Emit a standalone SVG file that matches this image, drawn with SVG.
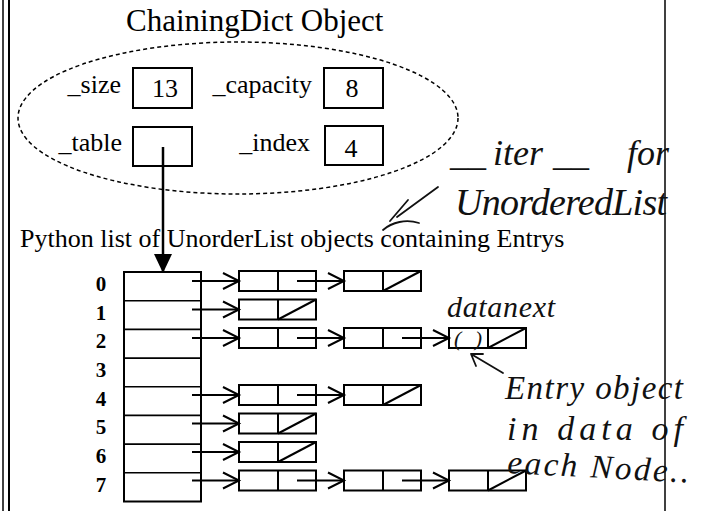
<svg xmlns="http://www.w3.org/2000/svg" width="701" height="511" viewBox="0 0 701 511">
<defs>
<style>
.t{font-family:"Liberation Serif","Times New Roman",serif;fill:#000}
.ttl{font-size:31px}
.lbl{font-size:26px}
.idx{font-size:21px;font-weight:bold;text-anchor:middle}
.box{fill:#fff;stroke:#000;stroke-width:2}
.cell{fill:none;stroke:#000;stroke-width:1.6}
.ln{stroke:#000;stroke-width:2;fill:none}
.hw{font-family:"Liberation Serif","DejaVu Serif",serif;font-style:italic;fill:#111}
.hs{stroke:#111;stroke-width:1.8;fill:none;stroke-linecap:round;stroke-linejoin:round}
</style>
<marker id="open" markerUnits="userSpaceOnUse" markerWidth="18" markerHeight="18" refX="16" refY="8" orient="auto" overflow="visible">
<path d="M0,0 L16,8 L0,16" fill="none" stroke="#000" stroke-width="2"/>
</marker>
<marker id="solid" markerUnits="userSpaceOnUse" markerWidth="20" markerHeight="20" refX="19" refY="9" orient="auto" overflow="visible">
<path d="M0,0 L19,9 L0,18 Z" fill="#000"/>
</marker>
</defs>
<rect width="701" height="511" fill="#fff"/>
<g id="frame" stroke="#000" fill="none">
<line x1="3" y1="0" x2="3" y2="511" stroke-width="1.5"/>
<line x1="9" y1="0" x2="9" y2="511" stroke-width="2"/>
<line x1="665" y1="0" x2="665" y2="511" stroke-width="1.5"/>
</g>
<g id="title"><text class="t ttl" x="126" y="31">ChainingDict Object</text></g>
<g id="dict-object">
<ellipse cx="238" cy="118" rx="220" ry="76" fill="none" stroke="#000" stroke-width="1.5" stroke-dasharray="4 3"/>
</g>
<g id="size">
<text class="t lbl" x="121" y="93" text-anchor="end">_size</text>
<rect class="box" x="133" y="68" width="59" height="40"/>
<text class="t lbl" x="165" y="97" text-anchor="middle">13</text>
</g>
<g id="capacity">
<text class="t lbl" x="312" y="93" text-anchor="end">_capacity</text>
<rect class="box" x="324" y="68" width="59" height="40"/>
<text class="t lbl" x="352" y="97" text-anchor="middle">8</text>
</g>
<g id="table">
<text class="t lbl" x="122" y="151" text-anchor="end">_table</text>
<rect class="box" x="133" y="127" width="59" height="39"/>
</g>
<g id="index">
<text class="t lbl" x="310" y="151" text-anchor="end">_index</text>
<rect class="box" x="325" y="126" width="58" height="39"/>
<text class="t lbl" x="351" y="157" text-anchor="middle">4</text>
</g>
<g id="list-caption"><text class="t lbl" x="20" y="247">Python list of UnorderList objects containing Entrys</text></g>
<g id="python-list">
<rect x="124" y="272" width="77" height="229.5" fill="none" stroke="#000" stroke-width="2"/>
<path class="cell" d="M124 300.7H201M124 329.4H201M124 358.1H201M124 386.8H201M124 415.4H201M124 444.1H201M124 472.8H201"/>
<text class="t idx" x="101" y="291">0</text>
<text class="t idx" x="101" y="319.7">1</text>
<text class="t idx" x="101" y="348.4">2</text>
<text class="t idx" x="101" y="377.1">3</text>
<text class="t idx" x="101" y="405.8">4</text>
<text class="t idx" x="101" y="434.4">5</text>
<text class="t idx" x="101" y="463.1">6</text>
<text class="t idx" x="101" y="491.8">7</text>
</g>
<g id="row0-node0"><rect class="box" x="239" y="271" width="77" height="20"/><line class="ln" x1="278" y1="271" x2="278" y2="291"/></g>
<g id="row0-node1"><rect class="box" x="344" y="271" width="77" height="20"/><line class="ln" x1="383" y1="271" x2="383" y2="291"/><line class="ln" x1="383" y1="291" x2="421" y2="271"/></g>
<g id="row1-node0"><rect class="box" x="239" y="299.5" width="77" height="20"/><line class="ln" x1="278" y1="299.5" x2="278" y2="319.5"/><line class="ln" x1="278" y1="319.5" x2="316" y2="299.5"/></g>
<g id="row2-node0"><rect class="box" x="239" y="328" width="77" height="20"/><line class="ln" x1="278" y1="328" x2="278" y2="348"/></g>
<g id="row2-node1"><rect class="box" x="344" y="328" width="77" height="20"/><line class="ln" x1="383" y1="328" x2="383" y2="348"/></g>
<g id="row2-node2"><rect class="box" x="449" y="328" width="77" height="20"/><line class="ln" x1="488" y1="328" x2="488" y2="348"/><line class="ln" x1="488" y1="348" x2="526" y2="328"/></g>
<g id="row4-node0"><rect class="box" x="239" y="385" width="77" height="20"/><line class="ln" x1="278" y1="385" x2="278" y2="405"/></g>
<g id="row4-node1"><rect class="box" x="344" y="385" width="77" height="20"/><line class="ln" x1="383" y1="385" x2="383" y2="405"/><line class="ln" x1="383" y1="405" x2="421" y2="385"/></g>
<g id="row5-node0"><rect class="box" x="239" y="413.5" width="77" height="20"/><line class="ln" x1="278" y1="413.5" x2="278" y2="433.5"/><line class="ln" x1="278" y1="433.5" x2="316" y2="413.5"/></g>
<g id="row6-node0"><rect class="box" x="239" y="442" width="77" height="20"/><line class="ln" x1="278" y1="442" x2="278" y2="462"/><line class="ln" x1="278" y1="462" x2="316" y2="442"/></g>
<g id="row7-node0"><rect class="box" x="239" y="470.5" width="77" height="20"/><line class="ln" x1="278" y1="470.5" x2="278" y2="490.5"/></g>
<g id="row7-node1"><rect class="box" x="344" y="470.5" width="77" height="20"/><line class="ln" x1="383" y1="470.5" x2="383" y2="490.5"/></g>
<g id="row7-node2"><rect class="box" x="449" y="470.5" width="77" height="20"/><line class="ln" x1="488" y1="470.5" x2="488" y2="490.5"/><line class="ln" x1="488" y1="490.5" x2="526" y2="470.5"/></g>
<g id="connectors" fill="none" stroke="#000" stroke-width="2">
<line x1="163" y1="147" x2="163" y2="273" stroke-width="2.5" marker-end="url(#solid)"/>
<path d="M192 281H239" marker-end="url(#open)"/>
<path d="M192 309.5H239" marker-end="url(#open)"/>
<path d="M192 338H239" marker-end="url(#open)"/>
<path d="M192 395H239" marker-end="url(#open)"/>
<path d="M192 423.5H239" marker-end="url(#open)"/>
<path d="M192 452H239" marker-end="url(#open)"/>
<path d="M192 480.5H239" marker-end="url(#open)"/>
<path d="M297 281H344" marker-end="url(#open)"/>
<path d="M297 338H344" marker-end="url(#open)"/>
<path d="M402 338H449" marker-end="url(#open)"/>
<path d="M297 395H344" marker-end="url(#open)"/>
<path d="M297 480.5H344" marker-end="url(#open)"/>
<path d="M402 480.5H449" marker-end="url(#open)"/>
</g>
<g id="annotations">
<text class="hw" font-size="36" y="165"><tspan x="450">__</tspan><tspan x="493">iter</tspan><tspan x="553">__</tspan><tspan x="618"> for</tspan></text>
<text class="hw" x="455" y="215" font-size="38" textLength="212" lengthAdjust="spacing">UnorderedList</text>
<path class="hs" d="M438 187 L397 217 M408 200 L390 221 M383 230 C392 222 406 219 419 223"/>
<text class="hw" x="447" y="317" font-size="30" textLength="108" lengthAdjust="spacing">datanext</text>
<text class="hw" x="454" y="346" font-size="22" textLength="28" lengthAdjust="spacing">()</text>
<path class="hs" d="M503 373 L471 354 M471 354 L476 366 M471 354 L483 354"/>
<text class="hw" x="505" y="399" font-size="33" textLength="178" lengthAdjust="spacing">Entry object</text>
<text class="hw" x="507" y="440" font-size="34" textLength="176" lengthAdjust="spacing">in data of</text>
<text class="hw" x="507" y="473" font-size="33" textLength="182" lengthAdjust="spacing" transform="rotate(3 507 473)">each Node..</text>
</g>
</svg>
